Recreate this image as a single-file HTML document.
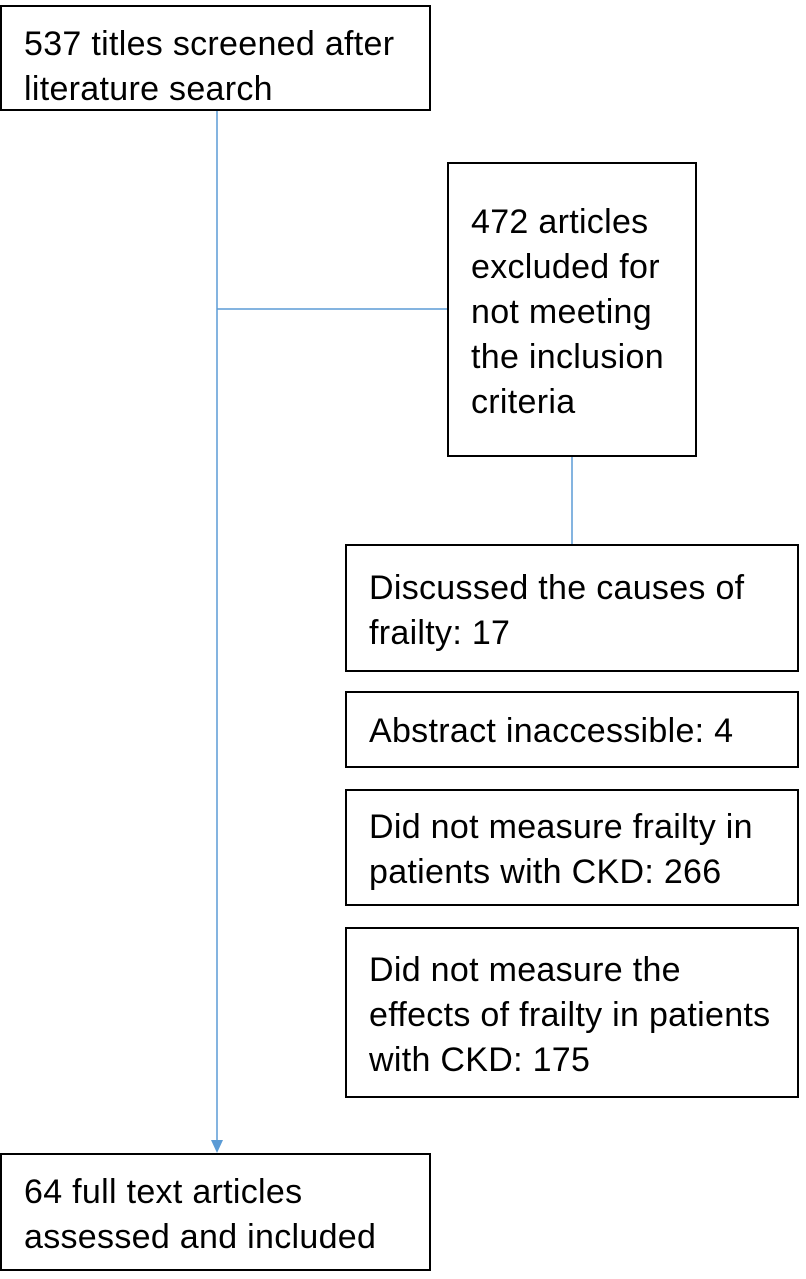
<!DOCTYPE html>
<html><head><meta charset="utf-8"><style>
body{margin:0;width:806px;height:1279px;background:#fff;position:relative;overflow:hidden;font-family:"Liberation Sans",sans-serif;}
.box{position:absolute;border:2px solid #000;box-sizing:border-box;background:#fff;font-size:34px;letter-spacing:0.3px;line-height:45px;color:#000;white-space:nowrap;}
</style></head><body>
<svg width="806" height="1279" style="position:absolute;left:0;top:0">
<line x1="217" y1="110" x2="217" y2="1142" stroke="#5b9bd5" stroke-width="1.5"/>
<polygon points="211,1140 223,1140 217,1153" fill="#5b9bd5"/>
<line x1="217" y1="309" x2="447" y2="309" stroke="#5b9bd5" stroke-width="1.5"/>
<line x1="572" y1="456" x2="572" y2="544" stroke="#5b9bd5" stroke-width="1.5"/>
</svg>
<div class="box" style="left:0;top:5px;width:431px;height:106px;padding:15px 0 0 22px">537 titles screened after<br>literature search</div>
<div class="box" style="left:447px;top:162px;width:250px;height:295px;padding:36px 0 0 22px">472 articles<br>excluded for<br>not meeting<br>the inclusion<br>criteria</div>
<div class="box" style="left:345px;top:544px;width:454px;height:128px;padding:20px 0 0 22px">Discussed the causes of<br>frailty: 17</div>
<div class="box" style="left:345px;top:691px;width:454px;height:77px;padding:16px 0 0 22px">Abstract inaccessible: 4</div>
<div class="box" style="left:345px;top:789px;width:454px;height:117px;padding:14px 0 0 22px">Did not measure frailty in<br>patients with CKD: 266</div>
<div class="box" style="left:345px;top:927px;width:454px;height:171px;padding:19px 0 0 22px">Did not measure the<br>effects of frailty in patients<br>with CKD: 175</div>
<div class="box" style="left:0;top:1153px;width:431px;height:118px;padding:15px 0 0 22px">64 full text articles<br>assessed and included</div>
</body></html>
